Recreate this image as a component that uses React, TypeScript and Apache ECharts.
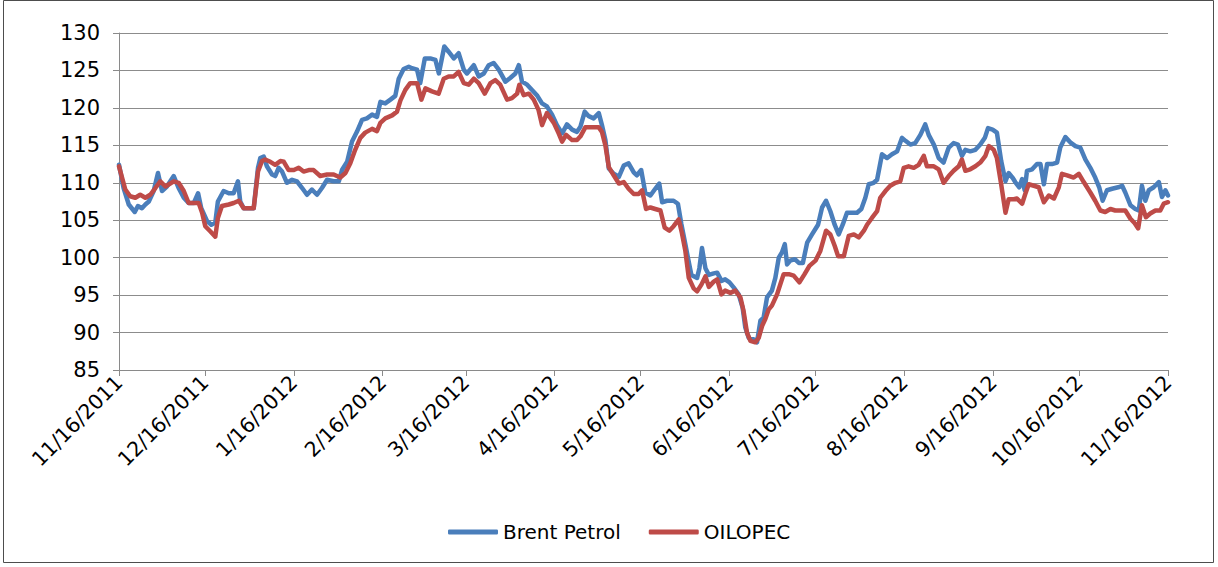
import React, { useEffect, useRef } from "react";
import * as echarts from "echarts";

// Tick positions (days after 11/16/2011) and their labels
const tickDays = [0, 30, 61, 92, 121, 152, 182, 213, 243, 274, 305, 335, 366];
const tickLabels = [
  "11/16/2011", "12/16/2011", "1/16/2012", "2/16/2012", "3/16/2012", "4/16/2012",
  "5/16/2012", "6/16/2012", "7/16/2012", "8/16/2012", "9/16/2012", "10/16/2012", "11/16/2012",
];

// Brent Petrol: day offsets and prices
const brentDays = [
  0, 1.6, 3.4, 5.5, 6.6, 8.0, 9.2, 10.4, 12.1, 13.6, 15.0, 16.7, 19.1, 20.8, 22.6, 24.3, 26.1, 27.6, 28.7, 30.7,
  32.2, 33.6, 34.5, 36.5, 38.3, 40.0, 41.5, 42.3, 43.5, 47.0, 48.5, 49.3, 50.5, 51.6, 53.4, 54.5, 55.7, 56.9, 58.6, 60.4,
  62.1, 63.9, 65.6, 67.3, 69.1, 70.8, 72.6, 74.9, 76.7, 77.8, 79.6, 81.3, 83.0, 84.8, 86.5, 88.3, 90.0, 91.2, 92.9, 94.7,
  96.4, 97.6, 99.3, 101.1, 102.2, 104.0, 105.1, 106.7, 108.6, 110.4, 111.6, 113.5, 115.0, 116.8, 118.5, 120.3, 121.4, 123.8, 125.5, 127.3,
  129.0, 130.7, 132.5, 134.8, 136.5, 138.3, 139.5, 140.6, 142.4, 144.1, 145.8, 147.6, 149.3, 151.1, 152.8, 154.6, 156.3, 158.1, 159.8, 161.0,
  162.5, 163.9, 165.6, 167.4, 168.5, 169.7, 170.9, 172.6, 174.4, 176.1, 177.8, 179.6, 180.7, 182.2, 183.6, 185.4, 187.1, 188.5, 189.5, 191.2,
  193.5, 195.0, 196.2, 197.6, 198.5, 199.7, 201.7, 202.5, 203.4, 204.6, 205.8, 207.5, 208.7, 210.2, 211.5, 213.0, 214.5, 216.2, 217.6, 218.5,
  219.7, 221.5, 222.6, 223.8, 224.9, 226.1, 227.8, 229.0, 230.2, 231.3, 232.3, 233.1, 234.2, 235.8, 237.2, 238.6, 240.1, 241.8, 243.9, 245.3,
  246.7, 248.2, 249.7, 251.1, 252.5, 254.0, 255.8, 257.5, 259.0, 260.4, 261.6, 263.3, 264.5, 266.2, 268.0, 269.7, 271.5, 273.2, 274.4, 276.1,
  277.8, 279.6, 281.3, 282.5, 284.3, 286.0, 287.7, 289.5, 291.2, 292.7, 294.1, 295.3, 297.0, 298.8, 300.5, 302.1, 303.2, 304.8, 306.3, 307.8,
  309.3, 310.4, 311.9, 312.7, 314.1, 315.1, 316.0, 316.8, 318.6, 320.3, 321.5, 322.7, 323.8, 325.5, 327.3, 328.4, 330.2, 331.9, 333.7, 335.4,
  337.2, 338.9, 340.6, 342.0, 343.2, 344.7, 346.5, 348.6, 350.0, 351.1, 352.9, 354.6, 355.8, 356.9, 358.1, 359.3, 361.0, 362.8, 363.9, 365.1,
  366.0,
];
const brentValues = [
  112.4, 109.3, 107.1, 106.1, 106.9, 106.6, 107.1, 107.5, 108.9, 111.3, 108.9, 109.5, 110.9, 109.3, 108.0, 107.3, 107.3, 108.6, 106.6, 104.9,
  104.4, 104.7, 107.5, 108.9, 108.6, 108.6, 110.2, 107.5, 106.6, 106.6, 112.0, 113.3, 113.5, 112.2, 111.1, 110.9, 112.0, 111.5, 110.0, 110.4,
  110.2, 109.3, 108.4, 109.1, 108.4, 109.3, 110.4, 110.2, 110.2, 111.7, 112.8, 115.5, 116.8, 118.4, 118.6, 119.1, 118.8, 120.8, 120.6, 121.1,
  121.6, 123.9, 125.2, 125.5, 125.3, 125.1, 123.3, 126.6, 126.6, 126.4, 124.6, 128.2, 127.5, 126.6, 127.3, 125.1, 124.6, 125.7, 124.2, 124.6,
  125.7, 126.0, 125.1, 123.5, 124.0, 124.6, 125.7, 123.5, 123.1, 122.4, 121.7, 120.6, 120.2, 119.1, 117.7, 116.6, 117.8, 117.1, 116.8, 117.5,
  119.5, 118.9, 118.6, 119.3, 117.7, 115.7, 111.9, 111.2, 110.8, 112.3, 112.6, 111.4, 111.0, 111.7, 108.7, 108.3, 109.2, 109.9, 107.4, 107.6,
  107.6, 107.2, 104.5, 101.8, 100.0, 97.7, 97.3, 98.6, 101.3, 98.6, 97.7, 97.9, 98.0, 96.9, 97.1, 96.7, 96.0, 95.1, 93.3, 90.7,
  89.3, 89.1, 88.7, 91.6, 92.0, 94.7, 95.6, 97.3, 100.0, 100.7, 101.8, 99.1, 99.6, 99.8, 99.3, 99.3, 102.0, 103.1, 104.4, 106.7,
  107.6, 106.2, 104.4, 103.1, 104.4, 106.0, 106.0, 106.0, 106.5, 108.0, 109.8, 110.0, 110.4, 113.8, 113.3, 113.8, 114.2, 116.0, 115.6, 115.1,
  115.3, 116.4, 117.8, 116.4, 115.1, 113.3, 112.7, 114.7, 115.3, 115.1, 113.6, 114.4, 114.2, 114.4, 115.1, 116.0, 117.3, 117.1, 116.7, 112.9,
  110.2, 111.3, 110.6, 110.1, 109.4, 110.5, 109.0, 111.6, 111.8, 112.5, 112.5, 109.8, 112.5, 112.5, 112.7, 114.7, 116.1, 115.4, 114.9, 114.7,
  113.1, 112.0, 110.7, 109.4, 107.6, 109.0, 109.2, 109.4, 109.6, 108.7, 107.0, 106.5, 106.3, 109.6, 107.6, 109.0, 109.4, 110.1, 108.1, 109.0,
  108.3,
];

// OILOPEC: day offsets and prices
const opecDays = [
  0, 2.2, 3.9, 5.7, 7.4, 9.2, 10.9, 12.7, 14.4, 16.2, 19.1, 20.8, 22.6, 24.3, 27.8, 29.0, 30.1, 31.9, 33.6, 34.5,
  35.9, 38.3, 40.0, 41.8, 43.5, 47.0, 48.5, 49.9, 51.0, 52.8, 54.5, 56.3, 57.5, 59.2, 61.0, 62.7, 64.4, 66.2, 67.9, 70.2,
  72.6, 74.9, 77.2, 79.0, 80.7, 82.4, 84.2, 85.9, 88.3, 90.0, 91.2, 92.9, 95.3, 97.0, 98.2, 99.9, 101.6, 104.0, 105.5, 106.9,
  109.2, 111.5, 113.3, 115.0, 116.8, 118.5, 120.3, 122.0, 123.8, 125.5, 127.6, 129.6, 131.3, 133.0, 135.4, 137.1, 138.9, 139.7, 141.2, 143.0,
  144.7, 146.4, 147.6, 149.3, 151.7, 153.4, 154.6, 156.0, 158.1, 159.8, 161.0, 162.7, 165.0, 167.4, 168.5, 169.7, 170.9, 172.6, 174.4, 176.1,
  177.8, 179.6, 181.3, 182.5, 183.9, 185.4, 187.1, 188.9, 190.4, 192.0, 193.5, 195.3, 196.4, 197.6, 198.8, 200.5, 201.7, 203.2, 204.6, 205.8,
  207.5, 208.7, 210.2, 211.5, 213.3, 215.0, 216.8, 217.9, 219.1, 220.3, 222.0, 223.2, 224.4, 225.5, 226.7, 227.8, 229.6, 230.7, 231.9, 233.7,
  235.4, 237.4, 239.2, 240.9, 243.0, 244.7, 246.7, 248.2, 249.7, 250.9, 252.9, 254.6, 256.4, 258.1, 259.9, 261.0, 262.7, 264.5, 265.6, 267.4,
  269.1, 270.9, 272.6, 273.8, 275.5, 277.3, 279.0, 280.8, 281.9, 284.3, 286.0, 287.7, 289.5, 291.2, 293.0, 294.1, 295.3, 297.0, 298.8, 300.5,
  302.3, 303.5, 305.2, 306.3, 307.8, 309.3, 310.4, 312.2, 313.3, 315.1, 316.2, 317.4, 319.2, 320.9, 322.7, 324.4, 326.2, 327.9, 329.0, 330.8,
  333.1, 334.9, 336.6, 338.9, 340.6, 342.4, 344.1, 345.9, 347.6, 349.4, 351.1, 352.9, 354.4, 355.6, 356.9, 358.3, 359.8, 361.6, 363.3, 364.5,
  366.0,
];
const opecValues = [
  112.2, 109.1, 108.2, 108.0, 108.4, 108.0, 108.4, 109.3, 110.2, 109.5, 110.2, 110.0, 108.9, 107.3, 107.3, 106.0, 104.2, 103.5, 102.8, 105.3,
  106.9, 107.1, 107.3, 107.6, 106.6, 106.6, 111.5, 112.9, 113.1, 112.8, 112.4, 112.9, 112.8, 111.7, 111.7, 112.0, 111.5, 111.7, 111.7, 110.9,
  111.1, 111.1, 110.7, 111.3, 112.6, 114.4, 116.0, 116.7, 117.2, 116.9, 118.0, 118.6, 119.0, 119.5, 121.0, 122.4, 123.3, 123.3, 121.1, 122.6,
  122.2, 121.9, 123.9, 124.2, 124.2, 124.8, 123.3, 123.1, 123.9, 123.3, 121.9, 123.3, 123.7, 123.1, 121.1, 121.3, 121.9, 123.1, 121.7, 121.9,
  121.1, 119.7, 117.7, 119.3, 118.0, 116.6, 115.5, 116.4, 115.7, 115.7, 116.2, 117.4, 117.4, 117.4, 116.8, 115.0, 112.1, 111.0, 109.9, 110.1,
  109.2, 108.5, 108.5, 109.0, 106.5, 106.7, 106.5, 106.3, 104.0, 103.6, 104.2, 105.1, 103.3, 100.9, 97.3, 95.9, 95.5, 96.4, 97.5, 96.1,
  96.8, 97.1, 95.1, 95.6, 95.3, 95.6, 94.7, 92.9, 90.0, 88.9, 88.7, 89.3, 90.9, 91.8, 93.1, 93.6, 95.1, 96.4, 97.8, 97.8,
  97.6, 96.7, 97.8, 98.9, 99.6, 100.9, 103.6, 103.1, 101.6, 100.2, 100.2, 102.9, 103.1, 102.7, 103.6, 104.4, 105.3, 106.2, 108.0, 108.9,
  109.6, 110.0, 110.2, 112.0, 112.2, 112.0, 112.4, 113.6, 112.2, 112.2, 111.8, 110.0, 110.9, 111.6, 112.2, 113.1, 111.6, 111.8, 112.2, 112.7,
  113.6, 114.9, 114.4, 113.3, 109.8, 106.0, 107.8, 107.8, 107.9, 107.2, 108.5, 109.8, 109.6, 109.4, 107.4, 108.3, 107.9, 109.4, 111.2, 111.0,
  110.7, 111.2, 110.1, 108.7, 107.6, 106.3, 106.1, 106.5, 106.3, 106.3, 106.3, 105.2, 104.6, 103.9, 107.0, 105.4, 105.9, 106.3, 106.3, 107.2,
  107.4,
];

const FONT = "'DejaVu Sans', 'Liberation Sans', sans-serif";

export default function App() {
  const ref = useRef<HTMLDivElement>(null);

  useEffect(() => {
    if (!ref.current) return;
    const chart = echarts.init(ref.current, null, { renderer: "svg" });
    const labelFor = (v: number) => {
      const i = tickDays.indexOf(Math.round(v));
      return i >= 0 ? tickLabels[i] : "";
    };
    chart.setOption({
      animation: false,
      backgroundColor: "#ffffff",
      textStyle: { fontFamily: FONT },
      grid: { left: 119, right: 50, top: 33, bottom: 197, containLabel: false, outerBoundsMode: "none" },
      legend: {
        left: 443,
        top: 517,
        itemWidth: 50,
        itemHeight: 5,
        itemGap: 28,
        icon: "roundRect",
        textStyle: { fontFamily: FONT, fontSize: 20, color: "#000000" },
        data: ["Brent Petrol", "OILOPEC"],
      },
      xAxis: {
        type: "value",
        min: 0,
        max: 366,
        splitLine: { show: false },
        axisLine: { show: true, lineStyle: { color: "#8a8a8a", width: 1 } },
        axisTick: { show: true, length: 6, lineStyle: { color: "#8a8a8a" }, customValues: tickDays },
        axisLabel: {
          customValues: tickDays,
          rotate: 45,
          margin: 9,
          fontFamily: FONT,
          fontSize: 20.5,
          color: "#000000",
          formatter: (v: number) => labelFor(v),
        },
      },
      yAxis: {
        type: "value",
        min: 85,
        max: 130,
        interval: 5,
        axisLine: { show: true, lineStyle: { color: "#8a8a8a", width: 1 } },
        axisTick: { show: true, length: 6, lineStyle: { color: "#8a8a8a" } },
        splitLine: { show: true, lineStyle: { color: "#8c8c8c", width: 1 } },
        axisLabel: { fontFamily: FONT, fontSize: 21, color: "#000000", margin: 19 },
      },
      series: [
        {
          name: "Brent Petrol",
          type: "line",
          showSymbol: false,
          symbol: "none",
          color: "#4a7ebb",
          lineStyle: { width: 4.5, color: "#4a7ebb", cap: "round", join: "round" },
          data: brentDays.map((d, i) => [d, brentValues[i]]),
        },
        {
          name: "OILOPEC",
          type: "line",
          showSymbol: false,
          symbol: "none",
          color: "#be4b48",
          lineStyle: { width: 4.5, color: "#be4b48", cap: "round", join: "round" },
          data: opecDays.map((d, i) => [d, opecValues[i]]),
        },
      ],
      graphic: [
        {
          type: "rect",
          shape: { x: 3.5, y: 0.5, width: 1210, height: 562 },
          style: { fill: "none", stroke: "#4d4d4d", lineWidth: 1 },
          silent: true,
        },
      ],
    });
    return () => chart.dispose();
  }, []);

  return (
    <div
      ref={ref}
      style={{ position: "fixed", left: 0, top: 0, width: 1218, height: 567 }}
    />
  );
}
